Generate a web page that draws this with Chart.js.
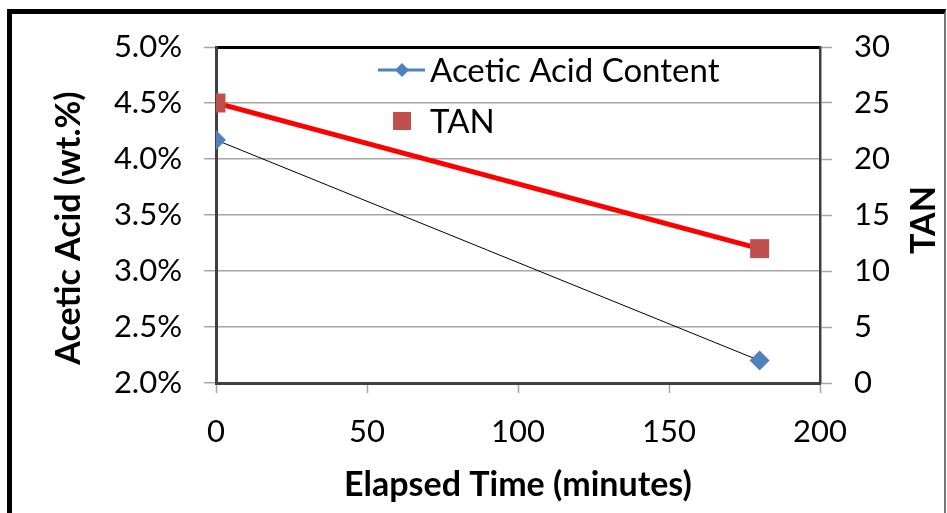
<!DOCTYPE html>
<html>
<head>
<meta charset="utf-8">
<script src="https://cdn.jsdelivr.net/npm/chart.js@4.4.1/dist/chart.umd.min.js"></script>
<style>
  html, body { margin: 0; padding: 0; background: #fff; overflow: hidden; }
  #wrap { position: relative; width: 947px; height: 513px; }
  #frame {
    position: absolute; left: 7px; top: 9px; width: 932px; height: 520px;
    border-left: 5px solid #000; border-top: 5px solid #000; border-right: 2px solid #777;
    pointer-events: none;
  }
</style>
</head>
<body>
<div id="wrap">
  <canvas id="myChart" width="947" height="513"></canvas>
  <div id="frame"></div>
</div>
<script>
// Data
const elapsedTime = [0, 180];          // minutes
const aceticAcid = [4.17, 2.2];        // wt.%
const tanValues = [25, 12];

const xTicks = { min: 0, max: 200, step: 50 };
const leftTicks = { min: 2.0, max: 5.0, step: 0.5 };
const rightTicks = { min: 0, max: 30, step: 5 };

const gridGray = "#a6a6a6";
const axisGray = "#404040";

function toPoints(xs, ys) {
  return xs.map((x, i) => ({ x: x, y: ys[i] }));
}

// Legend drawn inside the plot area, like the original
const insideLegend = {
  id: "insideLegend",
  afterDraw(chart) {
    const ctx = chart.ctx;
    ctx.save();
    ctx.font = "33px Lato";
    ctx.fillStyle = "#000";
    ctx.textBaseline = "middle";

    // Acetic Acid Content: line with diamond
    ctx.strokeStyle = "#4F81BD";
    ctx.lineWidth = 3;
    ctx.beginPath();
    ctx.moveTo(378, 70);
    ctx.lineTo(425, 70);
    ctx.stroke();
    ctx.fillStyle = "#4F81BD";
    ctx.beginPath();
    ctx.moveTo(402 - 7, 70);
    ctx.lineTo(402, 70 - 7);
    ctx.lineTo(402 + 7, 70);
    ctx.lineTo(402, 70 + 7);
    ctx.closePath();
    ctx.fill();
    ctx.fillStyle = "#000";
    ctx.fillText(chart.data.datasets[0].label, 430, 71);

    // TAN: square only
    ctx.fillStyle = "#C0504D";
    ctx.fillRect(393, 112, 18, 18);
    ctx.fillStyle = "#000";
    ctx.fillText(chart.data.datasets[1].label, 430, 122);
    ctx.restore();
  }
};

// Vertical axis titles (both read bottom to top)
const sideTitles = {
  id: "sideTitles",
  afterDraw(chart) {
    const ctx = chart.ctx;
    ctx.save();
    ctx.font = "bold 34px Lato";
    ctx.fillStyle = "#000";
    ctx.textAlign = "center";
    ctx.textBaseline = "middle";
    [["Acetic Acid (wt.%)", 69, 228], ["TAN", 924, 220]].forEach(([txt, x, y]) => {
      ctx.save();
      ctx.translate(x, y);
      ctx.rotate(-Math.PI / 2);
      ctx.fillText(txt, 0, 0);
      ctx.restore();
    });
    ctx.restore();
  }
};

window.addEventListener("load", function () {
  Chart.defaults.font.family = "Lato";
  Chart.defaults.color = "#000";

  const data = {
    datasets: [
      {
        label: "Acetic Acid Content",
        data: toPoints(elapsedTime, aceticAcid),
        yAxisID: "y",
        borderColor: "#000",
        borderWidth: 1,
        pointStyle: "rectRot",
        pointRadius: 10,
        pointBackgroundColor: "#4F81BD",
        pointBorderWidth: 0,
        fill: false,
      },
      {
        label: "TAN",
        data: toPoints(elapsedTime, tanValues),
        yAxisID: "y1",
        borderColor: "#FF0000",
        borderWidth: 5,
        pointStyle: "rect",
        pointRadius: 13.4,
        pointBackgroundColor: "#C0504D",
        pointBorderWidth: 0,
        fill: false,
      },
    ],
  };

  const config = {
    type: "line",
    data,
    plugins: [insideLegend, sideTitles],
    options: {
      responsive: false,
      animation: false,
      layout: { padding: { top: 47, left: 0, right: 0, bottom: 0 } },
      plugins: { legend: { display: false }, tooltip: { enabled: false } },
      scales: {
        x: {
          type: "linear",
          min: xTicks.min,
          max: xTicks.max,
          ticks: { stepSize: xTicks.step, font: { size: 31 }, padding: 20, maxRotation: 0 },
          grid: { drawOnChartArea: false, tickLength: 10, tickColor: gridGray, tickWidth: 1.5 },
          border: { color: axisGray, width: 3 },
          title: {
            display: true,
            text: "Elapsed Time (minutes)",
            font: { size: 34, weight: "bold" },
            padding: { top: 0, bottom: 8 },
          },
          afterFit: (scale) => { scale.height = 130; },
        },
        y: {
          position: "left",
          min: leftTicks.min,
          max: leftTicks.max,
          ticks: {
            stepSize: leftTicks.step,
            font: { size: 31 },
            padding: 22,
            callback: (v) => v.toFixed(1) + "%",
          },
          grid: {
            color: (c) => (c.tick && c.tick.value === leftTicks.max ? "#000" : gridGray),
            lineWidth: (c) => (c.tick && c.tick.value === leftTicks.max ? 3 : 1.5),
            tickLength: 12,
            tickColor: gridGray,
            tickWidth: 1.5,
          },
          border: { color: axisGray, width: 3 },
          afterFit: (scale) => { scale.width = 216; },
        },
        y1: {
          position: "right",
          min: rightTicks.min,
          max: rightTicks.max,
          ticks: { stepSize: rightTicks.step, font: { size: 31 }, padding: 22 },
          grid: { drawOnChartArea: false, tickLength: 12, tickColor: gridGray, tickWidth: 1.5 },
          border: { color: axisGray, width: 2.5 },
          afterFit: (scale) => { scale.width = 127; },
        },
      },
    },
  };

  const myChart = new Chart(document.getElementById("myChart"), config);
});
</script>
</body>
</html>
